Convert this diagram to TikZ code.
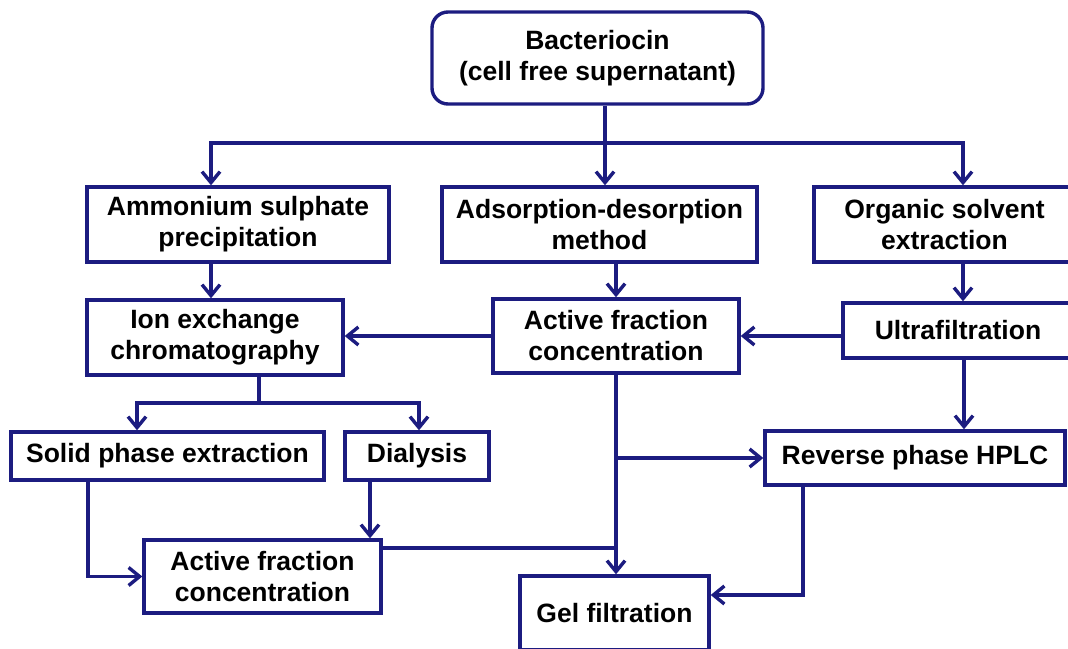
\documentclass[tikz,border=0pt]{standalone}
\usepackage{fontspec}
\setmainfont{Liberation Sans}
\usetikzlibrary{arrows.meta}
\definecolor{navy}{RGB}{28,28,128}
\begin{document}
\begin{tikzpicture}[x=1pt,y=-1pt,
  box/.style={draw=navy, line width=3.4pt, fill=white, align=center, text=black,
    font=\fontsize{26.5}{31}\selectfont\bfseries, inner sep=0pt},
  arr/.style={draw=navy, line width=3.4pt, -{Straight Barb[length=11pt,width=18pt]}},
  ln/.style={draw=navy, line width=3.4pt}]
\useasboundingbox (0,0) rectangle (1068,648);
\fill[white] (0,0) rectangle (1068,648);
% nodes
\node[box, rounded corners=16pt, minimum width=331pt, minimum height=92pt] (top) at (597.5,58) {Bacteriocin\\(cell free supernatant)};
\node[box, minimum width=302pt, minimum height=75pt] (amm) at (238,224.5) {Ammonium sulphate\\precipitation};
\node[box, minimum width=315pt, minimum height=75pt] (ads) at (599.5,224.5) {Adsorption-desorption\\method};
\node[box, minimum width=261pt, minimum height=75pt] (org) at (944.5,224.5) {Organic solvent\\extraction};
\node[box, minimum width=256pt, minimum height=75pt] (ion) at (215,337.5) {Ion exchange\\chromatography};
\node[box, minimum width=246pt, minimum height=74pt] (actm) at (616,336) {Active fraction\\concentration};
\node[box, minimum width=230pt, minimum height=55pt] (ultra) at (958,330.5) {Ultrafiltration};
\node[box, minimum width=313pt, minimum height=48pt] (solid) at (167.5,456) {Solid phase extraction};
\node[box, minimum width=144pt, minimum height=48pt] (dial) at (417,456) {Dialysis};
\node[box, minimum width=237pt, minimum height=73pt] (actb) at (262.5,576.5) {Active fraction\\concentration};
\node[box, minimum width=300pt, minimum height=54pt] (hplc) at (915,458) {Reverse phase HPLC};
\node[box, minimum width=189pt, minimum height=74pt] (gel) at (614.5,613) {Gel filtration};
% top split
\coordinate (j1) at (605,143);
\draw[ln] (top.south -| j1) -- (j1);
\draw[arr] (j1) -| ([xshift=-27pt]amm.north);
\draw[arr] (j1) -| ([xshift=18.5pt]org.north);
\draw[arr] (j1) -- (j1 |- ads.north);
% second row down
\draw[arr] ([xshift=-27pt]amm.south) -- ([xshift=-27pt]amm.south |- ion.north);
\draw[arr] (ads.south -| actm.north) -- (actm.north);
\draw[arr] ([xshift=18.5pt]org.south) -- ([xshift=18.5pt]org.south |- ultra.north);
% horizontals
\draw[arr] (ultra.west |- actm.east) -- (actm.east);
\draw[arr] (actm.west) -- (actm.west -| ion.east);
% ion split
\coordinate (j2) at (259,403);
\draw[ln] (ion.south -| j2) -- (j2);
\draw[arr] (j2) -| ([xshift=-30.5pt]solid.north);
\draw[arr] (j2) -| ([xshift=2pt]dial.north);
% to bottom active fraction
\draw[arr] ([xshift=-79.5pt]solid.south) |- (actb.west);
\draw[arr] ([xshift=-47pt]dial.south) -- ([xshift=-47pt]dial.south |- actb.north);
% middle column
\draw[arr] (actm.south) -- (actm.south |- gel.north);
\draw[arr] (actm.south |- hplc.west) -- (hplc.west);
\draw[ln] ([yshift=28.5pt]actb.east) -- ([yshift=28.5pt]actb.east -| actm.south);
% right column
\draw[arr] ([xshift=6pt]ultra.south) -- ([xshift=6pt]ultra.south |- hplc.north);
\draw[arr] ([xshift=-112pt]hplc.south) |- ([yshift=18pt]gel.east);
\end{tikzpicture}
\end{document}
